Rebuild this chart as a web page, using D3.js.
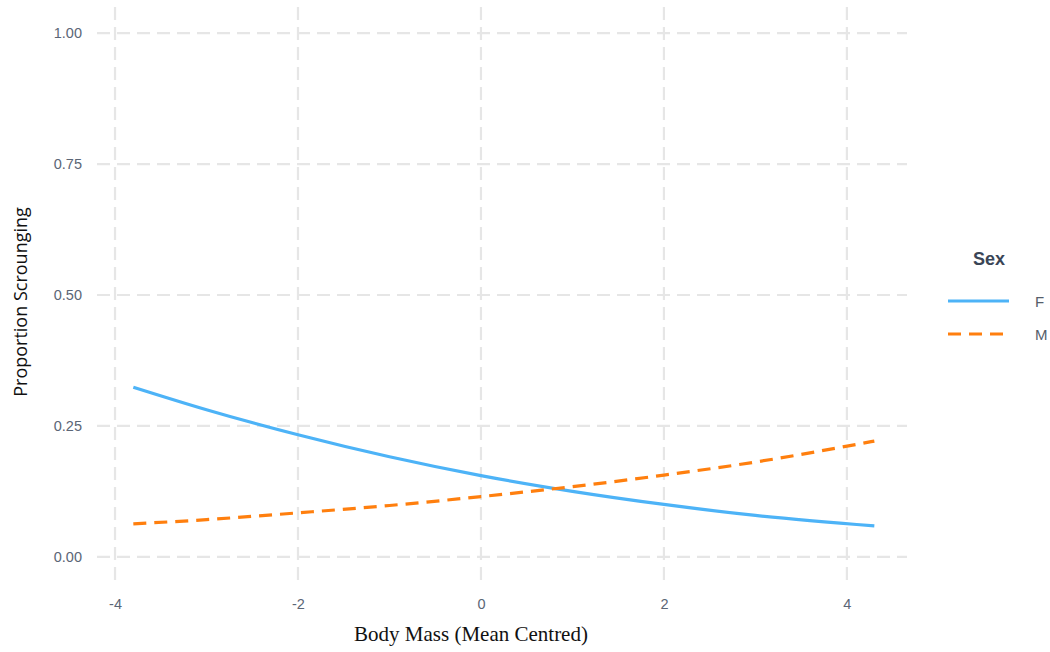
<!DOCTYPE html>
<html>
<head>
<meta charset="utf-8">
<script src="https://cdn.jsdelivr.net/npm/d3@7"></script>
<style>
  body { margin: 0; background: #fff; }
  .tick-label { font-family: "Liberation Sans", Arial, sans-serif; font-size: 14.5px; fill: #5b6676; }
</style>
</head>
<body>
<div id="chart"></div>
<script>
// Body mass (mean centred) at which each fitted curve was read
const bodyMass = [-3.8, -3, -2, -1, 0, 1, 2, 3, 4.3];
// Predicted proportion scrounging
const femaleProp = [0.324, 0.281, 0.233, 0.191, 0.155, 0.125, 0.100, 0.079, 0.059];
const maleProp = [0.063, 0.071, 0.084, 0.098, 0.115, 0.134, 0.156, 0.181, 0.221];
const sexLabels = ['F', 'M'];
const xTicks = [-4, -2, 0, 2, 4];
const yTicks = [0, 0.25, 0.5, 0.75, 1];

const W = 1050, H = 652;
const panel = { left: 97, right: 907, top: 7, bottom: 583 };

const svg = d3.select('#chart').append('svg')
    .attr('width', W)
    .attr('height', H);

const x = d3.scaleLinear()
    .domain([-4.197, 4.657])
    .range([panel.left, panel.right]);

const y = d3.scaleLinear()
    .domain([-0.05, 1.05])
    .range([panel.bottom, panel.top]);

// Grid
const grid = svg.append('g')
    .attr('stroke', '#e6e6e6')
    .attr('stroke-width', 2.2)
    .attr('stroke-dasharray', '13,7');

grid.selectAll('.hgrid')
    .data(yTicks)
    .enter()
    .append('line')
    .attr('x1', panel.left)
    .attr('x2', panel.right)
    .attr('y1', d => y(d))
    .attr('y2', d => y(d));

grid.selectAll('.vgrid')
    .data(xTicks)
    .enter()
    .append('line')
    .attr('y1', panel.top)
    .attr('y2', panel.bottom)
    .attr('x1', d => x(d))
    .attr('x2', d => x(d));

// Axes (labels only, no lines)
const xAxis = svg.append('g')
    .attr('transform', `translate(0,${panel.bottom})`)
    .call(d3.axisBottom(x).tickValues(xTicks).tickSize(0).tickPadding(16).tickFormat(d => String(d)));
xAxis.select('.domain').remove();
xAxis.selectAll('text').attr('class', 'tick-label').attr('font-size', null).attr('font-family', null);

const yAxis = svg.append('g')
    .attr('transform', `translate(${panel.left},0)`)
    .call(d3.axisLeft(y).tickValues(yTicks).tickSize(0).tickPadding(15).tickFormat(d3.format('.2f')));
yAxis.select('.domain').remove();
yAxis.selectAll('text').attr('class', 'tick-label').attr('font-size', null).attr('font-family', null);

// Series
const series = [
    { name: 'F', values: femaleProp, color: '#4db3f7', dash: null },
    { name: 'M', values: maleProp, color: '#ff7f0e', dash: '13,8' }
];

const line = d3.line()
    .x(d => x(d[0]))
    .y(d => y(d[1]))
    .curve(d3.curveMonotoneX);

series.forEach(s => {
    svg.append('path')
        .datum(bodyMass.map((m, i) => [m, s.values[i]]))
        .attr('fill', 'none')
        .attr('stroke', s.color)
        .attr('stroke-width', 3.2)
        .attr('stroke-dasharray', s.dash)
        .attr('d', line);
});

// Axis titles
svg.append('text')
    .attr('x', 471)
    .attr('y', 641)
    .attr('text-anchor', 'middle')
    .style('font-family', '"Liberation Serif", "Times New Roman", serif')
    .style('font-size', '21px')
    .style('fill', '#111')
    .text('Body Mass (Mean Centred)');

svg.append('text')
    .attr('transform', 'translate(27,302) rotate(-90)')
    .attr('text-anchor', 'middle')
    .style('font-family', '"Open Sans", sans-serif')
    .style('font-size', '18px')
    .style('fill', '#111')
    .text('Proportion Scrounging');

// Legend
const legend = svg.append('g');
legend.append('text')
    .attr('x', 973)
    .attr('y', 265)
    .style('font-family', '"Liberation Sans", Arial, sans-serif')
    .style('font-size', '18px')
    .style('font-weight', 'bold')
    .style('fill', '#3a4556')
    .text('Sex');

series.forEach((s, i) => {
    const ly = 301 + i * 33;
    legend.append('line')
        .attr('x1', 948)
        .attr('x2', 1009)
        .attr('y1', ly)
        .attr('y2', ly)
        .attr('stroke', s.color)
        .attr('stroke-width', 3.2)
        .attr('stroke-dasharray', s.dash);
    legend.append('text')
        .attr('x', 1035)
        .attr('y', ly + 6)
        .style('font-family', '"Liberation Sans", Arial, sans-serif')
        .style('font-size', '15px')
        .style('fill', '#555e6b')
        .text(sexLabels[i]);
});
</script>
</body>
</html>
